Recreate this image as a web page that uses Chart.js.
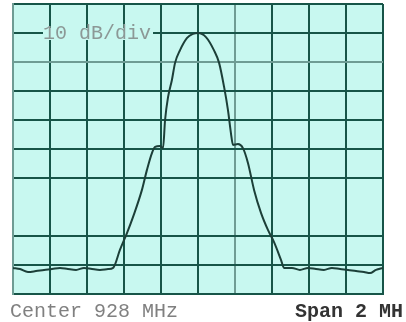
<!DOCTYPE html>
<html>
<head>
<meta charset="utf-8">
<script src="https://cdn.jsdelivr.net/npm/chart.js@4"></script>
<style>
  html, body { margin: 0; padding: 0; background: #fff; }
  #wrap { width: 406px; height: 322px; position: relative; }
</style>
</head>
<body>
<div id="wrap"><canvas id="chart" width="406" height="322"></canvas></div>
<script>
// trace: frequency (MHz) and level (dB)
var freqs = [927.000, 927.038, 927.081, 927.124, 927.168, 927.211, 927.254, 927.297, 927.341, 927.384,
             927.427, 927.470, 927.514, 927.541, 927.578, 927.616, 927.649, 927.697, 927.724, 927.751,
             927.768, 927.795, 927.811, 927.822, 927.838, 927.859, 927.876, 927.903, 927.941, 927.973,
             928.000, 928.043, 928.086, 928.114, 928.141, 928.162, 928.178, 928.189, 928.216, 928.243,
             928.270, 928.303, 928.341, 928.378, 928.411, 928.449, 928.465, 928.508, 928.551, 928.595,
             928.638, 928.681, 928.724, 928.768, 928.811, 928.854, 928.897, 928.930, 928.962, 929.000];
var levels = [-91.0, -91.4, -92.4, -92.1, -91.7, -91.4, -91.0, -91.4, -91.7, -91.0,
              -91.4, -91.7, -91.4, -91.0, -84.8, -79.0, -73.4, -64.1, -57.2, -51.4,
              -49.3, -49.0, -49.7, -40.0, -32.1, -26.2, -20.3, -15.9, -11.7, -10.3,
              -10.0, -11.4, -15.9, -20.3, -28.6, -36.6, -44.5, -48.6, -48.3, -49.7,
              -54.8, -64.1, -72.1, -77.9, -82.1, -88.3, -91.0, -91.0, -91.7, -91.0,
              -91.4, -91.7, -91.0, -91.4, -91.7, -92.1, -92.4, -92.8, -91.7, -91.0];

var centerLabel = 'Center 928 MHz';
var spanLabel = 'Span 2 MH';
var scaleLabel = '10 dB/div';

var bg = '#c8f8f0';
var gridDark = '#175548';
var gridPale = '#6f9c94';

function near(a, b) { return Math.abs(a - b) < 1e-6; }

var points = freqs.map(function (f, i) { return { x: f, y: levels[i] }; });

var screen = {
  id: 'screen',
  beforeDraw: function (chart) {
    var c = chart.ctx, a = chart.chartArea;
    c.save();
    c.fillStyle = bg;
    c.fillRect(a.left, a.top, a.right - a.left, a.bottom - a.top);
    c.restore();
  },
  beforeDatasetsDraw: function (chart) {
    var c = chart.ctx, a = chart.chartArea;
    c.save();
    c.font = '20px "Liberation Mono"';
    c.textBaseline = 'middle';
    var yy = chart.scales.y.getPixelForValue(-10) + 1;
    var w = c.measureText(scaleLabel).width;
    c.fillStyle = bg;
    c.fillRect(a.left + 30, yy - 6, w + 2, 12);
    c.fillStyle = '#8c9896';
    c.fillText(scaleLabel, a.left + 30, yy);
    c.restore();
  },
  afterDraw: function (chart) {
    var c = chart.ctx;
    c.save();
    c.textBaseline = 'middle';
    c.font = '20px "Liberation Mono"';
    c.fillStyle = '#808080';
    c.fillText(centerLabel, 10, 312);
    c.font = 'bold 20px "Liberation Mono"';
    c.fillStyle = '#333';
    c.fillText(spanLabel, 295, 312);
    c.restore();
  }
};

var ctx = document.getElementById('chart').getContext('2d');
var chart = new Chart(ctx, {
  type: 'line',
  data: {
    datasets: [{
      data: points,
      borderColor: '#1c3f38',
      borderWidth: 2,
      pointRadius: 0,
      cubicInterpolationMode: 'monotone',
      fill: false
    }]
  },
  options: {
    responsive: false,
    animation: false,
    layout: { padding: { left: 13, right: 23, top: 4, bottom: 28 } },
    plugins: { legend: { display: false }, tooltip: { enabled: false } },
    scales: {
      x: {
        type: 'linear', min: 927, max: 929,
        ticks: { display: false, stepSize: 0.2 },
        grid: {
          drawTicks: false, lineWidth: 2,
          color: function (c) { return near(c.tick.value, 928.2) ? gridPale : gridDark; }
        },
        border: { color: gridDark, width: 2 }
      },
      y: {
        min: -100, max: 0,
        ticks: { display: false, stepSize: 10 },
        grid: {
          drawTicks: false, lineWidth: 2,
          color: function (c) {
            if (near(c.tick.value, -70)) return 'rgba(0,0,0,0)';
            return near(c.tick.value, -20) ? gridPale : gridDark;
          }
        },
        border: { color: gridPale, width: 2 }
      }
    }
  },
  plugins: [screen]
});
</script>
</body>
</html>
